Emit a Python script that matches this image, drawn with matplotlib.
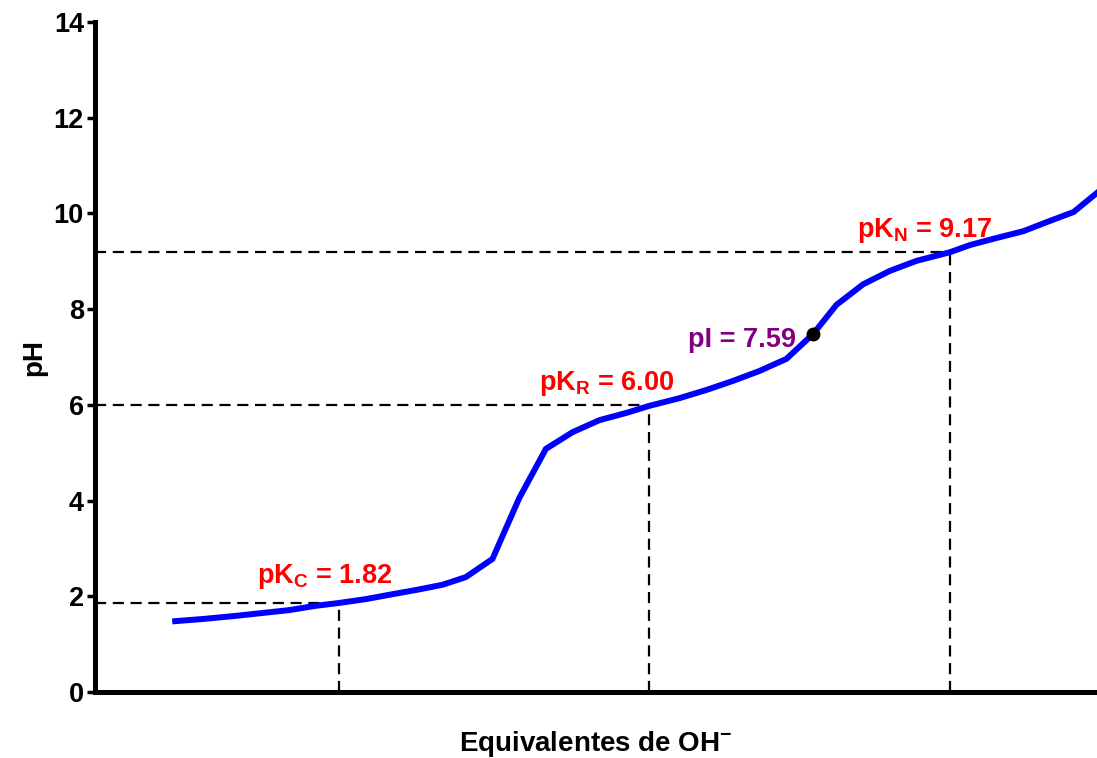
import matplotlib
matplotlib.use("Agg")
import matplotlib.pyplot as plt

plt.rcParams["font.family"] = ["Liberation Sans", "DejaVu Sans"]
plt.rcParams["font.weight"] = "bold"
plt.rcParams["mathtext.default"] = "regular"

# titration curve: equivalents of OH- vs pH
equiv = [0.24, 0.33, 0.42, 0.50, 0.58, 0.66, 0.73, 0.81, 0.88, 0.96, 1.04, 1.11,
         1.19, 1.27, 1.35, 1.43, 1.51, 1.59, 1.66, 1.75, 1.83, 1.91, 1.99, 2.07,
         2.15, 2.22, 2.30, 2.38, 2.46, 2.56, 2.62, 2.69, 2.78, 2.85, 2.93, 3.00]
ph = [1.48, 1.53, 1.59, 1.65, 1.71, 1.80, 1.86, 1.94, 2.03, 2.13, 2.24, 2.40,
      2.78, 4.05, 5.08, 5.43, 5.68, 5.83, 5.98, 6.14, 6.31, 6.50, 6.71, 6.96,
      7.48, 8.09, 8.52, 8.80, 9.01, 9.19, 9.34, 9.47, 9.63, 9.82, 10.03, 10.43]

pk_labels = ["pK$_C$ = 1.82", "pK$_R$ = 6.00", "pK$_N$ = 9.17"]
pk_x = [0.73, 1.66, 2.56]
pk_y = [1.86, 6.00, 9.19]

pi_label = "pI = 7.59"
pi_x = 2.15
pi_y = 7.48

y_ticks = [0, 2, 4, 6, 8, 10, 12, 14]

fig = plt.figure(figsize=(10.97, 7.58), dpi=100)
ax = fig.add_axes([95 / 1097, 66 / 758, 1002 / 1097, 670 / 758])

ax.plot(equiv, ph, color="#0000ff", lw=4.3, solid_joinstyle="miter", zorder=3, clip_on=False)

dash = dict(color="black", lw=1.6, dashes=(5, 3), zorder=2)
for x, y in zip(pk_x, pk_y):
    ax.plot([0, x], [y, y], **dash)
    ax.plot([x, x], [0, y], **dash)

# label offsets (in data units) relative to each pK point
offs = [(-0.245, 0.55), (-0.33, 0.45), (-0.28, 0.45)]
for lab, x, y, (dx, dy) in zip(pk_labels, pk_x, pk_y, offs):
    ax.text(x + dx, y + dy, lab, color="#ff0000", fontsize=19.5, fontweight="bold",
            ha="left", va="center")

ax.plot([pi_x], [pi_y], "o", color="black", ms=9, zorder=4)
ax.text(pi_x - 0.05, pi_y - 0.12, pi_label, color="#800080", fontsize=19.5,
        fontweight="bold", ha="right", va="center")

ax.set_xlim(0, 3.0)
ax.set_ylim(0, 14)
ax.set_yticks(y_ticks)
ax.set_xticks([])
ax.tick_params(axis="y", direction="out", length=6, width=2.5, labelsize=19.5, pad=2)
for lab in ax.get_yticklabels():
    lab.set_fontweight("bold")

for s in ("top", "right"):
    ax.spines[s].set_visible(False)
for s in ("left", "bottom"):
    ax.spines[s].set_linewidth(3.6)

ax.set_ylabel("pH", fontsize=20, fontweight="bold")
ax.yaxis.set_label_coords(-0.048, 0.5)
ax.set_xlabel("Equivalentes de OH$^{-}$", fontsize=20, fontweight="bold")
ax.xaxis.set_label_coords(0.5, -0.055)

fig.savefig("out.png", dpi=100)
